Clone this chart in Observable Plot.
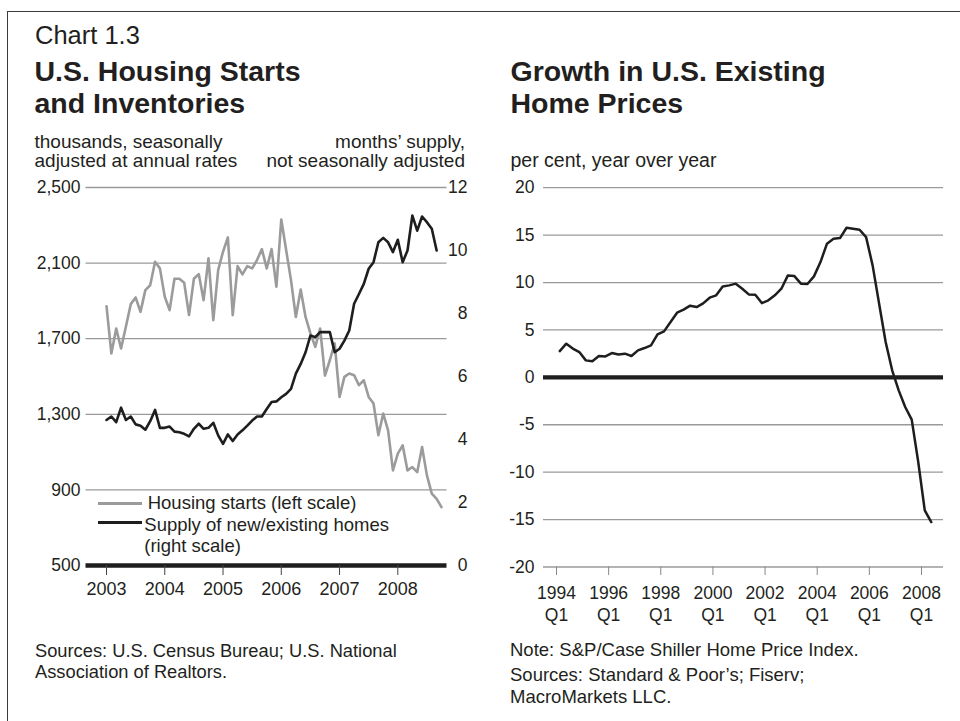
<!DOCTYPE html>
<html>
<head>
<meta charset="utf-8">
<script src="https://cdn.jsdelivr.net/npm/d3@7"></script>
<script src="https://cdn.jsdelivr.net/npm/@observablehq/plot@0.6"></script>
<style>
  html, body { margin: 0; padding: 0; background: #fff; }
  #page { position: relative; width: 960px; height: 721px; overflow: hidden;
          font-family: "Liberation Sans", Arial, Helvetica, sans-serif; color: #231f20; }
  .t { position: absolute; white-space: pre; }
  .frame { position: absolute; left: 7px; top: 11px; width: 1000px; height: 800px;
           border-left: 1.6px solid #3a3a3a; border-top: 1.6px solid #3a3a3a; }
  .sw { position: absolute; height: 3px; }
</style>
</head>
<body>
<div id="page"><div class="frame"></div></div>
<script>
// ---------------- DATA ----------------
// Left chart: monthly, starting January 2003
const startsFirstYear = 2003;
// Housing starts, thousands SAAR (Jan 2003 - Oct 2008)
const housingStarts = [
  1872, 1622, 1754, 1648, 1765, 1883, 1918, 1842, 1957, 1983, 2107, 2072,
  1922, 1851, 2017, 2017, 1996, 1825, 2017, 2042, 1904, 2125, 1798, 2063,
  2160, 2236, 1825, 2084, 2040, 2084, 2072, 2116, 2174, 2072, 2174, 1975,
  2331, 2169, 2010, 1815, 1960, 1815, 1728, 1657, 1754, 1505, 1586, 1675,
  1392, 1498, 1516, 1507, 1454, 1480, 1392, 1357, 1189, 1304, 1215, 1003,
  1092, 1136, 1003, 1021, 994, 1127, 977, 880, 853, 809
];
// Supply of new/existing homes, months (Jan 2003 - Sep 2008)
const monthsSupply = [
  4.62, 4.73, 4.55, 5.01, 4.62, 4.73, 4.48, 4.44, 4.31, 4.58, 4.94, 4.37,
  4.37, 4.41, 4.25, 4.23, 4.18, 4.10, 4.34, 4.50, 4.34, 4.37, 4.53, 4.13,
  3.86, 4.16, 3.95, 4.16, 4.29, 4.44, 4.60, 4.73, 4.73, 4.97, 5.19, 5.21,
  5.34, 5.45, 5.61, 6.09, 6.40, 6.77, 7.30, 7.25, 7.41, 7.41, 7.41, 6.77,
  6.88, 7.14, 7.46, 8.31, 8.62, 8.94, 9.42, 9.63, 10.26, 10.40, 10.26, 9.95,
  10.34, 9.63, 10.00, 11.11, 10.63, 11.08, 10.90, 10.69, 10.00
];
const leftYTicks = [500, 900, 1300, 1700, 2100, 2500];
const rightYTicks = [0, 2, 4, 6, 8, 10, 12];
const leftXTicks = [2003, 2004, 2005, 2006, 2007, 2008];

// Right chart: quarterly, starting 1994 Q1
const priceFirstYear = 1994;
// Case-Shiller home price growth, % y/y (1994 Q1 - 2008 Q2)
const priceGrowth = [
  2.77, 3.55, 3.03, 2.67, 1.79, 1.69, 2.25, 2.21, 2.56, 2.42, 2.50, 2.25,
  2.85, 3.09, 3.37, 4.53, 4.85, 5.83, 6.82, 7.14, 7.56, 7.41, 7.80, 8.40,
  8.65, 9.59, 9.70, 9.88, 9.35, 8.75, 8.72, 7.83, 8.12, 8.65, 9.35, 10.75,
  10.68, 9.88, 9.84, 10.65, 12.16, 14.10, 14.62, 14.69, 15.78, 15.68, 15.57, 14.79,
  11.81, 7.77, 3.72, 0.74, -1.37, -3.13, -4.46, -8.93, -14.02, -15.26
];
const priceYTicks = [-20, -15, -10, -5, 0, 5, 10, 15, 20];
const priceXTicks = [1994, 1996, 1998, 2000, 2002, 2004, 2006, 2008];

// ---------------- TEXT ----------------
const page = document.getElementById("page");
// str may contain "\n"; baseline is that of the first line
function addText(str, x, baseline, size, opts = {}) {
  const d = document.createElement("div");
  const lh = opts.lineHeight || size;
  d.className = "t";
  d.textContent = str;
  d.style.fontSize = size + "px";
  d.style.lineHeight = lh + "px";
  // first baseline = top + lh/2 + (ascent - descent)/2 * size  (Liberation Sans: 0.905 / 0.212)
  d.style.top = (baseline - lh / 2 - 0.3465 * size) + "px";
  if (opts.bold) d.style.fontWeight = "bold";
  if (opts.anchor === "end") { d.style.right = (960 - x) + "px"; d.style.textAlign = "right"; }
  else d.style.left = x + "px";
  page.appendChild(d);
}
addText("Chart 1.3", 35, 45, 25.5);
addText("U.S. Housing Starts\nand Inventories", 34.5, 81.3, 28.5, {bold: true, lineHeight: 32});
addText("Growth in U.S. Existing\nHome Prices", 510.5, 81.3, 28.5, {bold: true, lineHeight: 32});
addText("thousands, seasonally\nadjusted at annual rates", 34.5, 149, 19, {lineHeight: 18.5});
addText("months\u2019 supply,\nnot seasonally adjusted", 465, 149, 19, {anchor: "end", lineHeight: 18.5});
addText("per cent, year over year", 510.5, 167.5, 19.5);

addText("Sources: U.S. Census Bureau; U.S. National\nAssociation of Realtors.", 35, 657, 18.3, {lineHeight: 21});
addText("Note: S&P/Case Shiller Home Price Index.", 510, 657, 18.5);
addText("Sources: Standard & Poor\u2019s; Fiserv;\nMacroMarkets LLC.", 510, 681, 18.5, {lineHeight: 22});

// ---------------- LEFT CHART ----------------
const toLeft = v => 500 + v * (2000 / 12);
const fromLeft = d => (d - 500) * 12 / 2000;
const startsData = housingStarts.map((v, i) => ({t: startsFirstYear + i / 12, v}));
const supplyData = monthsSupply.map((v, i) => ({t: startsFirstYear + i / 12, v}));
const baseStyle = "font-family: 'Liberation Sans', Arial, Helvetica, sans-serif; color: #231f20; background: transparent; overflow: visible;";

const leftChart = Plot.plot({
  width: 480, height: 460,
  marginLeft: 85.5, marginRight: 33.5, marginTop: 17, marginBottom: 65,
  x: {type: "linear", domain: [2002.648, 2008.8445]},
  y: {type: "linear", domain: [500, 2500]},
  style: baseStyle,
  marks: [
    Plot.ruleY(leftYTicks.filter(d => d > 500), {stroke: "#9a9a9a", strokeWidth: 1.3}),
    Plot.line(startsData, {x: "t", y: "v", stroke: "#9b9b9b", strokeWidth: 2.6}),
    Plot.line(supplyData, {x: "t", y: d => toLeft(d.v), stroke: "#1e1e1e", strokeWidth: 2.6}),
    Plot.ruleY([500], {stroke: "#1e1e1e", strokeWidth: 4.5}),
    Plot.axisY(leftYTicks, {anchor: "left", tickSize: 0, tickPadding: 5.5,
      tickFormat: d3.format(","), fontSize: 17.5, label: null}),
    Plot.axisY(rightYTicks.map(toLeft), {anchor: "right", tickSize: 0, tickPadding: 20.5,
      textAnchor: "end", tickFormat: d => String(Math.round(fromLeft(d))), fontSize: 17.5, label: null}),
    Plot.axisX(leftXTicks, {anchor: "bottom", tickSize: 10, tickPadding: 7,
      tickFormat: d => String(d), stroke: "#444", fontSize: 18, label: null})
  ]
});
leftChart.style.position = "absolute";
leftChart.style.left = "0px";
leftChart.style.top = "170px";
page.appendChild(leftChart);

// legend (HTML, inside the left panel)
function addSwatch(x1, x2, y, color) {
  const s = document.createElement("div");
  s.className = "sw";
  s.style.left = x1 + "px";
  s.style.width = (x2 - x1) + "px";
  s.style.top = (y - 1.5) + "px";
  s.style.background = color;
  page.appendChild(s);
}
addSwatch(98, 141.7, 503.3, "#9b9b9b");
addSwatch(98, 141.7, 522.7, "#1e1e1e");
addText("Housing starts (left scale)", 147.7, 510, 18.5);
addText("Supply of new/existing homes\n(right scale)", 144.3, 531, 18.5, {lineHeight: 21});

// ---------------- RIGHT CHART ----------------
const priceData = priceGrowth.map((v, i) => ({t: priceFirstYear + i / 4 + 0.125, v}));
const rightChart = Plot.plot({
  width: 480, height: 460,
  marginLeft: 63, marginRight: 17, marginTop: 17.2, marginBottom: 63.5,
  x: {type: "linear", domain: [1993.5013, 2008.8439]},
  y: {type: "linear", domain: [-20, 20]},
  style: baseStyle,
  marks: [
    Plot.ruleY(priceYTicks.filter(d => d !== 0), {stroke: "#9a9a9a", strokeWidth: 1.3}),
    Plot.ruleY([0], {stroke: "#1e1e1e", strokeWidth: 4.2}),
    Plot.line(priceData, {x: "t", y: "v", stroke: "#1e1e1e", strokeWidth: 2.5}),
    Plot.axisY(priceYTicks, {anchor: "left", tickSize: 0, tickPadding: 9,
      tickFormat: d => String(d), fontSize: 17.5, label: null}),
    Plot.axisX(priceXTicks, {anchor: "bottom", tickSize: 8.5, tickPadding: 8.2,
      tickFormat: d => d + "\nQ1", lineHeight: 1.26, stroke: "#888", fontSize: 17.5, label: null})
  ]
});
rightChart.style.position = "absolute";
rightChart.style.left = "480px";
rightChart.style.top = "170px";
page.appendChild(rightChart);
</script>
</body>
</html>
